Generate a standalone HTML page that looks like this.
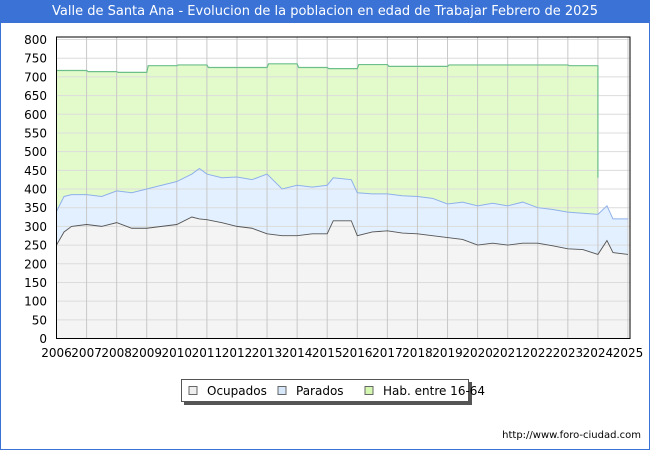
<!DOCTYPE html>
<html><head><meta charset="utf-8"><style>
body{margin:0;background:#fff;}
#wrap{position:relative;width:648px;height:448px;border:1px solid #3a72d6;overflow:hidden;font-family:"DejaVu Sans","Liberation Sans",sans-serif;}
#title{position:absolute;left:0;top:0;width:648px;height:22px;background:#3a72d6;color:#fff;font-size:13px;line-height:22px;text-align:center;}
svg{position:absolute;left:0;top:0;}
</style></head><body>
<div id="wrap">
<div id="title">Valle de Santa Ana - Evolucion de la poblacion en edad de Trabajar Febrero de 2025</div>
<svg id="chart" width="648" height="448"></svg>
</div>
<script>
const dates=[2006,2006.25,2006.5,2007,2007.5,2008,2008.5,2009,2009.5,2010,2010.5,2010.75,2011,2011.5,2012,2012.5,2013,2013.5,2014,2014.5,2015,2015.2,2015.8,2016,2016.5,2017,2017.5,2018,2018.5,2019,2019.5,2020,2020.5,2021,2021.5,2022,2022.5,2023,2023.5,2024,2024.3,2024.5,2025];
const ocupados=[250,285,300,305,300,310,295,295,300,305,325,320,318,310,300,295,280,275,275,280,280,315,315,275,285,288,282,280,275,270,265,250,255,250,255,255,248,240,238,225,262,230,225];
const totalActivos=[340,380,385,385,380,395,390,400,410,420,440,455,440,430,432,425,440,400,410,405,410,430,425,390,387,387,382,380,375,360,365,355,362,355,365,350,345,338,335,332,355,320,320];
const parados=totalActivos.map((t,i)=>t-ocupados[i]);
const habYears=[2006,2007,2008,2009,2010,2011,2012,2013,2014,2015,2016,2017,2018,2019,2020,2021,2022,2023];
const habValues=[717,714,712,730,732,725,725,735,725,722,733,728,728,732,732,732,732,730];
const habEndValue=430;
const yTicks=[0,50,100,150,200,250,300,350,400,450,500,550,600,650,700,750,800];
const xTicks=[2006,2007,2008,2009,2010,2011,2012,2013,2014,2015,2016,2017,2018,2019,2020,2021,2022,2023,2024,2025];

const svg=document.getElementById('chart');
const NS='http://www.w3.org/2000/svg';
const L=55.5,R=629,T=36,B=337.5;
const X=v=>L+(v-2006)*(627-55.5)/19;
const Y=v=>B-v*(B-38.5)/800;
function mk(tag,attrs){const e=document.createElementNS(NS,tag);for(const k in attrs)e.setAttribute(k,attrs[k]);svg.appendChild(e);return e;}

const bg=mk('rect',{x:L,y:T,width:R-L,height:B-T,fill:'#fff'});



// hab area
let hp=`M${X(2006)},${B}`;
habYears.forEach((yr,i)=>{hp+=` L${X(yr)+(i?1.5:0)},${Y(habValues[i])} L${X(yr+1)},${Y(habValues[i])}`;});
hp+=` L${X(2024)},${Y(habEndValue)} L${X(2024)},${B} Z`;
const ha=mk('path',{d:hp,fill:'#e3fbcb',stroke:'none'});


let hl=`M${X(2006)},${Y(habValues[0])}`;
habYears.forEach((yr,i)=>{hl+=` L${X(yr)+(i?1.5:0)},${Y(habValues[i])} L${X(yr+1)},${Y(habValues[i])}`;});
hl+=` L${X(2024)},${Y(habEndValue)}`;

// parados area (stacked)
let pp=`M${X(dates[0])},${B}`;
dates.forEach((d,i)=>{pp+=` L${X(d)},${Y(ocupados[i]+parados[i])}`;});
pp+=` L${X(dates[dates.length-1])},${B} Z`;
const pa=mk('path',{d:pp,fill:'#e3f0ff',stroke:'none'});


let op=`M${X(dates[0])},${B}`;
dates.forEach((d,i)=>{op+=` L${X(d)},${Y(ocupados[i])}`;});
op+=` L${X(dates[dates.length-1])},${B} Z`;
const oa=mk('path',{d:op,fill:'#f4f4f4',stroke:'none'});



// grid
yTicks.forEach(v=>{
 const g=mk('line',{x1:L,x2:R,y1:Y(v),y2:Y(v),stroke:'#dcdcdc','stroke-width':1});
 
 
 const t=mk('text',{x:46,y:Y(v)+4.5,'text-anchor':'end','font-size':12,fill:'#000'});
 t.textContent=v;
 
 
});
xTicks.forEach(v=>{
 const g=mk('line',{x1:X(v),x2:X(v),y1:T,y2:B,stroke:'#c8c8c8','stroke-width':1});
 
 
 const t=mk('text',{x:X(v),y:356,'text-anchor':'middle','font-size':12,fill:'#000'});
 t.textContent=v;
 
 
});

// lines
const hline=mk('path',{d:hl,fill:'none',stroke:'#6cbf8a','stroke-width':1.2});


let pl='';dates.forEach((d,i)=>{pl+=(i?' L':'M')+X(d)+','+Y(ocupados[i]+parados[i]);});
const pline=mk('path',{d:pl,fill:'none',stroke:'#8fb0ea','stroke-width':1});


let ol='';dates.forEach((d,i)=>{ol+=(i?' L':'M')+X(d)+','+Y(ocupados[i]);});
const oline=mk('path',{d:ol,fill:'none',stroke:'#555','stroke-width':0.9});



const fr=mk('rect',{x:L,y:T,width:R-L,height:B-T,fill:'none',stroke:'#000','stroke-width':1});



// legend
const ls=mk('rect',{x:183,y:381,width:288,height:23,fill:'#555'});


const lb=mk('rect',{x:180.5,y:378.5,width:287,height:22,fill:'#fff',stroke:'#555'});


const legendLabels=['Ocupados','Parados','Hab. entre 16-64'];
const legendColors=['#eeeeee','#d7e8fb','#d5f8b1'];
const legendX=[188,277,364];
legendLabels.forEach((lab,i)=>{
 const s=mk('rect',{x:legendX[i],y:385.5,width:8,height:8,fill:legendColors[i],stroke:'#666'});
 
 
 const t=mk('text',{x:legendX[i]+18,y:394,'font-size':12,fill:'#000'});
 t.textContent=lab;
 
 
});
const u=mk('text',{x:640,y:437,'text-anchor':'end','font-size':10,fill:'#000'});
u.textContent='http://www.foro-ciudad.com';


</script>
</body></html>
